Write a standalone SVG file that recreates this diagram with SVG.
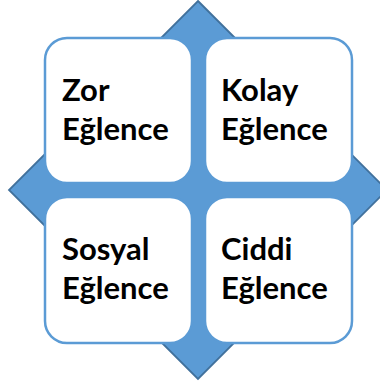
<svg xmlns="http://www.w3.org/2000/svg" width="380" height="387" viewBox="0 0 380 387">
  <style>
    .diamond { fill: #5B9BD5; stroke: #41719C; stroke-width: 1.8; stroke-linejoin: miter; }
    .card { fill: #FFFFFF; stroke: #5B9BD5; stroke-width: 2.5; }
    .label { font-family: Lato, "Open Sans", "Liberation Sans", sans-serif; font-weight: 700; font-size: 31px; fill: #000000; }
  </style>
  <!-- blue diamond backdrop -->
  <g id="backdrop">
    <polygon class="diamond" points="198,1 387,190 198,379 9,190"/>
  </g>
  <!-- four quadrant cards -->
  <g id="zor">
    <rect class="card" x="45" y="38" width="147" height="145" rx="22" ry="22"/>
    <text class="label" x="62" y="101">Zor</text>
    <text class="label" x="62" y="140">Eğlence</text>
  </g>
  <g id="kolay">
    <rect class="card" x="205" y="38" width="147" height="145" rx="22" ry="22"/>
    <text class="label" x="221" y="101">Kolay</text>
    <text class="label" x="221" y="140">Eğlence</text>
  </g>
  <g id="sosyal">
    <rect class="card" x="45" y="197" width="147" height="146" rx="22" ry="22"/>
    <text class="label" x="62" y="260">Sosyal</text>
    <text class="label" x="62" y="299">Eğlence</text>
  </g>
  <g id="ciddi">
    <rect class="card" x="205" y="197" width="147" height="146" rx="22" ry="22"/>
    <text class="label" x="221" y="260">Ciddi</text>
    <text class="label" x="221" y="299">Eğlence</text>
  </g>
  <g id="connectors"/>
</svg>
